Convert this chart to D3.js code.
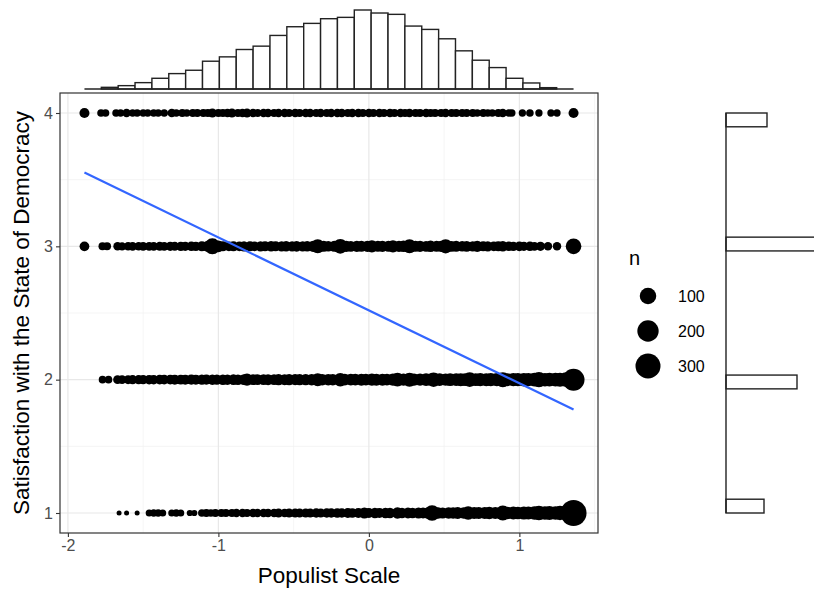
<!DOCTYPE html>
<html>
<head>
<meta charset="utf-8">
<script src="https://cdnjs.cloudflare.com/ajax/libs/d3/7.8.5/d3.min.js"></script>
<style>
  body { margin: 0; background: #fff; }
  svg { display: block; font-family: "Liberation Sans", Arial, sans-serif; }
</style>
</head>
<body>
<svg width="814" height="590"></svg>
<script>
// [populist scale value, n] for each satisfaction level
var row4 = [[-1.89,20],[-1.78,6],[-1.75,6],
  [-1.68,6],[-1.65,5],[-1.61,10],[-1.57,5],[-1.54,6],[-1.50,5],[-1.47,6],[-1.43,6],[-1.40,5],[-1.36,6],[-1.31,10],
  [-1.28,6],[-1.24,7],[-1.21,6],[-1.17,7],[-1.14,7],[-1.10,8],[-1.07,7],[-1.04,13],[-1.00,8],[-0.97,8],[-0.94,9],
  [-0.91,12],[-0.87,8],[-0.84,9],[-0.81,12],[-0.77,9],[-0.74,8],[-0.70,9],[-0.67,9],[-0.63,8],[-0.60,9],[-0.56,9],
  [-0.53,8],[-0.49,9],[-0.46,8],[-0.42,9],[-0.39,9],[-0.35,8],[-0.32,9],[-0.28,8],[-0.25,9],[-0.21,9],[-0.18,11],
  [-0.14,8],[-0.11,10],[-0.07,9],[-0.04,8],[0.00,9],[0.03,8],[0.07,9],[0.10,8],[0.14,9],[0.17,8],[0.21,9],[0.24,8],
  [0.27,11],[0.31,8],[0.34,8],[0.38,9],[0.41,8],[0.44,8],[0.48,8],[0.51,10],[0.55,7],[0.58,8],[0.62,7],[0.65,7],
  [0.69,7],[0.72,6],[0.76,7],[0.79,6],[0.82,6],[0.86,7],[0.89,9],[0.93,5],[0.95,5],[1.02,5],[1.07,6],[1.13,5],
  [1.21,5],[1.25,5],[1.36,20]];

var row3 = [[-1.89,18],[-1.77,8],[-1.74,8],
  [-1.67,10],[-1.64,9],[-1.60,10],[-1.57,11],[-1.53,10],[-1.50,12],[-1.46,11],[-1.43,12],[-1.39,13],[-1.36,12],
  [-1.32,14],[-1.29,13],[-1.25,15],[-1.22,14],[-1.18,16],[-1.15,15],[-1.11,20],[-1.07,30],[-1.04,90],[-1.00,35],
  [-0.97,20],[-0.93,18],[-0.90,20],[-0.86,18],[-0.83,22],[-0.79,20],[-0.76,18],[-0.72,22],[-0.69,20],[-0.65,24],
  [-0.62,20],[-0.58,22],[-0.55,24],[-0.51,22],[-0.48,25],[-0.44,22],[-0.41,24],[-0.37,30],[-0.34,62],[-0.30,28],
  [-0.27,24],[-0.23,28],[-0.19,72],[-0.15,30],[-0.12,26],[-0.08,30],[-0.05,28],[-0.01,30],[0.02,40],[0.06,28],
  [0.09,30],[0.13,28],[0.16,40],[0.20,30],[0.23,32],[0.27,62],[0.31,28],[0.34,30],[0.38,26],[0.41,32],[0.45,28],
  [0.48,30],[0.51,64],[0.55,26],[0.58,28],[0.62,24],[0.65,26],[0.69,22],[0.72,30],[0.76,20],[0.79,22],[0.83,18],
  [0.86,20],[0.89,24],[0.93,16],[0.96,15],[1.00,18],[1.03,14],[1.07,16],[1.10,12],[1.14,14],[1.19,10],[1.25,10],
  [1.36,85]];

var row2 = [[-1.77,6],[-1.73,6],
  [-1.67,12],[-1.64,12],[-1.60,13],[-1.57,14],[-1.53,14],[-1.50,15],[-1.46,16],[-1.43,16],[-1.39,17],[-1.36,18],
  [-1.32,18],[-1.29,20],[-1.25,19],[-1.22,20],[-1.18,21],[-1.15,20],[-1.11,22],[-1.08,21],[-1.04,23],[-1.01,22],
  [-0.97,24],[-0.94,23],[-0.90,25],[-0.87,24],[-0.83,26],[-0.81,40],[-0.77,26],[-0.74,27],[-0.70,26],[-0.67,28],
  [-0.63,27],[-0.60,30],[-0.56,28],[-0.53,30],[-0.49,29],[-0.46,31],[-0.42,30],[-0.38,32],[-0.34,48],[-0.31,32],
  [-0.27,33],[-0.24,32],[-0.19,55],[-0.16,34],[-0.12,36],[-0.09,34],[-0.05,38],[-0.02,36],[0.02,40],[0.05,37],
  [0.09,38],[0.12,36],[0.16,42],[0.19,60],[0.23,40],[0.27,62],[0.30,42],[0.34,40],[0.38,44],[0.41,42],[0.43,68],
  [0.47,44],[0.51,42],[0.54,46],[0.58,44],[0.61,48],[0.64,46],[0.67,70],[0.71,46],[0.74,50],[0.78,48],[0.81,52],
  [0.85,50],[0.89,75],[0.92,48],[0.96,52],[0.99,50],[1.03,55],[1.06,52],[1.10,58],[1.13,80],[1.17,55],[1.20,60],
  [1.24,58],[1.27,62],[1.31,70],[1.36,215]];

var row1 = [[-1.66,1],[-1.61,1],[-1.54,1],
  [-1.46,4],[-1.43,5],[-1.40,5],[-1.37,4],[-1.31,4],[-1.28,5],[-1.25,4],[-1.19,2],[-1.16,2],
  [-1.11,6],[-1.08,7],[-1.05,6],[-1.02,7],[-0.98,8],[-0.95,7],[-0.91,8],[-0.88,9],[-0.84,9],[-0.81,8],[-0.77,10],
  [-0.74,9],[-0.70,10],[-0.67,11],[-0.63,10],[-0.60,12],[-0.56,11],[-0.53,12],[-0.49,13],[-0.46,12],[-0.42,14],
  [-0.39,13],[-0.35,15],[-0.32,14],[-0.28,16],[-0.25,15],[-0.21,17],[-0.18,16],[-0.14,18],[-0.11,17],[-0.07,19],
  [-0.03,30],[0.00,20],[0.04,22],[0.07,21],[0.11,24],[0.14,22],[0.19,32],[0.22,24],[0.26,26],[0.29,25],[0.33,28],
  [0.36,26],[0.39,30],[0.42,85],[0.46,32],[0.49,30],[0.53,34],[0.56,32],[0.59,36],[0.63,34],[0.66,55],[0.70,36],
  [0.73,40],[0.77,38],[0.80,42],[0.84,40],[0.89,75],[0.92,42],[0.96,46],[0.99,44],[1.03,50],[1.06,48],[1.10,52],
  [1.13,70],[1.17,55],[1.20,60],[1.24,58],[1.27,65],[1.31,70],[1.36,330]];

var levels = [1, 2, 3, 4];
var xTicks = [-2, -1, 0, 1];
var sizeBreaks = [100, 200, 300];

// linear fit: satisfaction = intercept + slope * populist
var lmIntercept = 2.52, lmSlope = -0.547;

// marginal histograms
var topHistCounts = [0, 5, 10, 19, 32, 46, 56, 83, 96, 118, 128, 160, 186, 196, 210, 214, 236, 227, 223,
  188, 178, 150, 114, 86, 64, 32, 18, 4, 0];
var rightHistCounts = [38, 71, 160, 41]; // for levels 1..4

var svg = d3.select("svg"),
    margin = {top: 93, right: 216, bottom: 57, left: 60},
    width = +svg.attr("width") - margin.left - margin.right,
    height = +svg.attr("height") - margin.top - margin.bottom;

svg.append("rect").attr("width", 814).attr("height", 590).attr("fill", "#fff");

var rows = [row1, row2, row3, row4];
var points = [];
rows.forEach(function(r, i) {
  r.forEach(function(d) { points.push({x: d[0], y: levels[i], n: d[1]}); });
});

var xExt = d3.extent(points, function(d) { return d.x; }),
    xPad = (xExt[1] - xExt[0]) * 0.05,
    nExt = d3.extent(points, function(d) { return d.n; });

var x = d3.scaleLinear()
    .domain([xExt[0] - xPad, xExt[1] + xPad])
    .range([0, width]);

var y = d3.scaleLinear()
    .domain([0.85, 4.15])
    .range([height, 0]);

// area scale like ggplot: rescale n to 0..1, then sqrt
var sizeScale = d3.scaleSqrt()
    .domain([0, nExt[1] - nExt[0]])
    .range([2.5, 13]);
function size(n) { return sizeScale(n - nExt[0]); }

var g = svg.append("g").attr("transform", "translate(" + margin.left + "," + margin.top + ")");

// grid
var minorX = [-1.5, -0.5, 0.5, 1.5], minorY = [1.5, 2.5, 3.5];
g.append("g").selectAll("line").data(minorX).enter().append("line")
    .attr("x1", x).attr("x2", x).attr("y1", 0).attr("y2", height)
    .attr("stroke", "#f0f0f0").attr("stroke-width", 0.7);
g.append("g").selectAll("line").data(minorY).enter().append("line")
    .attr("y1", y).attr("y2", y).attr("x1", 0).attr("x2", width)
    .attr("stroke", "#f0f0f0").attr("stroke-width", 0.7);
g.append("g").selectAll("line").data(xTicks).enter().append("line")
    .attr("x1", x).attr("x2", x).attr("y1", 0).attr("y2", height)
    .attr("stroke", "#e8e8e8").attr("stroke-width", 1.2);
g.append("g").selectAll("line").data(levels).enter().append("line")
    .attr("y1", y).attr("y2", y).attr("x1", 0).attr("x2", width)
    .attr("stroke", "#e8e8e8").attr("stroke-width", 1.2);

// points
g.append("g").selectAll("circle")
  .data(points)
  .enter().append("circle")
    .attr("cx", function(d) { return x(d.x); })
    .attr("cy", function(d) { return y(d.y); })
    .attr("r", function(d) { return size(d.n); })
    .attr("fill", "#000");

// fitted line
g.append("line")
    .attr("x1", x(xExt[0])).attr("y1", y(lmIntercept + lmSlope * xExt[0]))
    .attr("x2", x(xExt[1])).attr("y2", y(lmIntercept + lmSlope * xExt[1]))
    .attr("stroke", "#3366ff").attr("stroke-width", 2.2);

// panel border
g.append("rect").attr("width", width).attr("height", height)
    .attr("fill", "none").attr("stroke", "#333").attr("stroke-width", 1.2);

// axes
var xAxis = g.append("g").attr("transform", "translate(0," + height + ")")
    .call(d3.axisBottom(x).tickValues(xTicks).tickSize(4).tickPadding(3).tickFormat(d3.format("d")));
var yAxis = g.append("g")
    .call(d3.axisLeft(y).tickValues(levels).tickSize(4).tickPadding(3).tickFormat(d3.format("d")));
[xAxis, yAxis].forEach(function(a) {
  a.select(".domain").remove();
  a.selectAll(".tick line").attr("stroke", "#333").attr("stroke-width", 1.1);
  a.selectAll(".tick text").attr("fill", "#4d4d4d").style("font-size", "16px")
    .style("font-family", "Liberation Sans, Arial, sans-serif");
});
xAxis.selectAll(".tick text").text(function(d) { return d < 0 ? "-" + Math.abs(d) : d; });

g.append("text")
    .attr("x", width / 2).attr("y", height + 50)
    .attr("text-anchor", "middle").style("font-size", "22.5px")
    .text("Populist Scale");
g.append("text")
    .attr("transform", "translate(-31," + height / 2 + ") rotate(-90)")
    .attr("text-anchor", "middle").style("font-size", "22.5px")
    .text("Satisfaction with the State of Democracy");

// top marginal histogram
var binW = (xExt[1] - xExt[0]) / topHistCounts.length;
var topBins = topHistCounts.map(function(c, i) {
  return {x0: xExt[0] + i * binW, x1: xExt[0] + (i + 1) * binW, c: c};
});
var hy = d3.scaleLinear().domain([0, d3.max(topHistCounts)]).range([89, 10]);
var topHist = svg.append("g").attr("transform", "translate(" + margin.left + ",0)");
topHist.selectAll("rect").data(topBins.filter(function(d) { return d.c > 0; })).enter().append("rect")
    .attr("x", function(d) { return x(d.x0); })
    .attr("width", function(d) { return x(d.x1) - x(d.x0); })
    .attr("y", function(d) { return hy(d.c); })
    .attr("height", function(d) { return hy(0) - hy(d.c); })
    .attr("fill", "#fff").attr("stroke", "#222").attr("stroke-width", 1.4);
topHist.append("line")
    .attr("x1", x(xExt[0])).attr("x2", x(xExt[1]))
    .attr("y1", hy(0)).attr("y2", hy(0))
    .attr("stroke", "#222").attr("stroke-width", 1.4);

// right marginal histogram
var yBinW = (levels[3] - levels[0]) / 29;
var hx = d3.scaleLinear().domain([0, 100]).range([726, 826]);
var rightBins = d3.range(29).map(function(i) {
  var y0 = levels[0] + i * yBinW, y1 = y0 + yBinW, c = 0;
  levels.forEach(function(l, j) {
    if ((l >= y0 && l < y1) || (i === 28 && l === y1)) c = rightHistCounts[j];
  });
  return {y0: y0, y1: y1, c: c};
});
var rightHist = svg.append("g").attr("transform", "translate(0," + margin.top + ")");
rightHist.selectAll("rect").data(rightBins.filter(function(d) { return d.c > 0; })).enter().append("rect")
    .attr("x", hx(0))
    .attr("width", function(d) { return hx(d.c) - hx(0); })
    .attr("y", function(d) { return y(d.y1); })
    .attr("height", function(d) { return y(d.y0) - y(d.y1); })
    .attr("fill", "#fff").attr("stroke", "#222").attr("stroke-width", 1.4);
rightHist.append("line")
    .attr("x1", hx(0)).attr("x2", hx(0))
    .attr("y1", y(levels[0])).attr("y2", y(levels[3]))
    .attr("stroke", "#222").attr("stroke-width", 1.4);

// legend
var legend = svg.append("g").attr("transform", "translate(630,0)");
legend.append("text").attr("x", -1).attr("y", 265).style("font-size", "20px").text("n");
var lg = legend.selectAll(".key").data(sizeBreaks).enter().append("g")
    .attr("transform", function(d, i) { return "translate(18," + (296 + i * 35) + ")"; });
lg.append("circle").attr("r", function(d) { return size(d); }).attr("fill", "#000");
lg.append("text").attr("x", 30).attr("dy", "0.35em").style("font-size", "16px").text(function(d) { return d; });
</script>
</body>
</html>
